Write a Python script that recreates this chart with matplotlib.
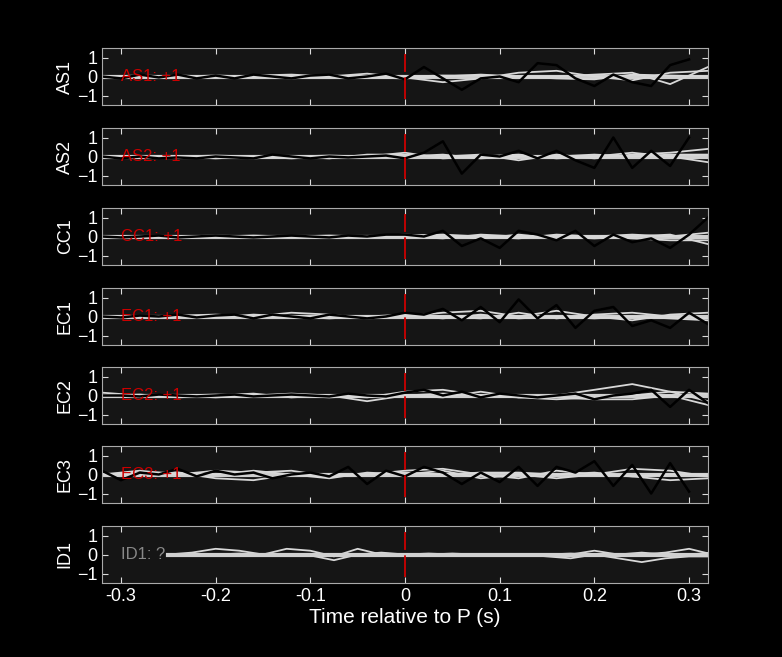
import numpy as np
import matplotlib.pyplot as plt

plt.rcParams['font.family'] = ['Liberation Sans', 'DejaVu Sans']

stations = ["AS1", "AS2", "CC1", "EC1", "EC2", "EC3", "ID1"]
labels = ["AS1: +1", "AS2: +1", "CC1: +1", "EC1: +1", "EC2: +1", "EC3: +1", "ID1: ?"]
label_colors = ["#cc0000"] * 6 + ["#888888"]

# black trace, sampled every 0.02 s from -0.32
t_black = np.round(np.arange(-0.32, 0.325, 0.02), 3)
black = {
    "AS1": [0.0, -0.1, 0.1, -0.05, 0.1, -0.1, 0.05, -0.1, 0.1, 0.0, -0.1, 0.05, 0.1, -0.1, 0.0, 0.15, -0.15, 0.5,
            -0.1, -0.7, -0.1, 0.0, -0.3, 0.7, 0.6, -0.1, -0.5, 0.1, -0.3, -0.5, 0.6, 0.9, -0.1],
    "AS2": [0.0, -0.1, 0.0, -0.1, -0.05, -0.1, 0.0, -0.05, -0.1, 0.1, 0.0, -0.1, 0.0, -0.05, 0.0, 0.05, -0.1, 0.2,
            0.8, -0.9, 0.1, 0.0, 0.3, -0.1, 0.3, -0.2, -0.6, 1.0, -0.6, 0.3, -0.5, 1.0, -0.7],
    "CC1": [0.0, -0.05, 0.0, 0.05, -0.05, 0.0, 0.05, 0.0, -0.05, 0.0, 0.05, 0.0, -0.05, 0.05, 0.0, 0.1, 0.1, 0.0,
            0.3, -0.5, -0.1, -0.6, 0.3, 0.1, -0.2, 0.3, -0.5, 0.1, -0.3, -0.1, -0.6, 0.1, 1.0],
    "EC1": [0.0, -0.05, 0.05, 0.0, 0.1, -0.05, 0.05, 0.1, -0.1, 0.1, 0.0, -0.1, 0.1, 0.0, -0.1, 0.0, 0.2, 0.1,
            0.4, -0.2, 0.5, -0.3, 0.9, -0.1, 0.6, -0.6, 0.3, 0.5, -0.5, -0.2, -0.6, 0.2, -0.4],
    "EC2": [0.0, 0.0, -0.05, 0.05, 0.0, -0.05, 0.0, 0.05, -0.05, 0.0, 0.05, 0.0, -0.05, 0.1, 0.0, -0.05, 0.15, 0.3,
            0.0, 0.2, -0.1, 0.1, 0.0, -0.1, 0.0, 0.1, -0.2, 0.0, 0.1, 0.3, -0.6, 0.3, -0.4],
    "EC3": [0.2, -0.3, 0.1, 0.0, 0.3, -0.1, 0.2, 0.0, 0.1, -0.2, 0.0, 0.1, -0.1, 0.4, -0.5, 0.2, -0.1, 0.4,
            0.1, -0.5, 0.1, -0.4, 0.4, -0.6, 0.4, 0.1, 0.7, -0.6, 0.5, -1.0, 0.6, -0.9, 0.4],
}
black_end = {"AS1": 0.31, "AS2": 0.31, "CC1": 0.32, "EC1": 0.32, "EC2": 0.32, "EC3": 0.31}

# gray traces, sampled every 0.04 s from -0.32
t_gray = np.round(np.arange(-0.32, 0.325, 0.04), 3)
gray = {
    "AS1": [[0.0, 0.05, 0.0, -0.05, 0.05, 0.1, 0.0, 0.15, -0.05, -0.3, -0.1, 0.2, 0.3, 0.0, -0.2, 0.2, 0.3],
            [0.0, 0.0, 0.05, 0.0, -0.05, 0.0, 0.05, 0.0, 0.0, 0.05, 0.05, 0.0, -0.1, -0.15, 0.1, 0.05, 0.0],
            [0.0, -0.05, 0.0, 0.05, 0.0, -0.1, 0.0, -0.05, -0.1, 0.0, 0.1, 0.0, 0.0, 0.1, 0.2, -0.4, 0.5]],
    "AS2": [[0.0, 0.0, -0.05, 0.0, -0.1, 0.0, -0.1, 0.1, 0.1, 0.0, 0.1, -0.2, 0.1, -0.1, 0.1, 0.2, 0.4],
            [0.0, -0.05, 0.0, -0.1, 0.0, -0.1, 0.0, 0.0, 0.2, -0.1, 0.0, 0.1, -0.1, 0.0, 0.2, 0.0, -0.3],
            [0.0, 0.0, 0.0, 0.05, 0.0, 0.0, 0.05, 0.0, 0.0, 0.1, -0.1, 0.0, 0.0, 0.1, 0.0, 0.1, 0.1]],
    "CC1": [[0.0, 0.0, 0.0, 0.05, 0.0, 0.0, 0.05, 0.0, 0.1, 0.0, -0.1, 0.1, -0.1, 0.0, 0.1, 0.0, 0.2],
            [0.0, 0.0, -0.05, 0.0, 0.0, -0.05, 0.0, 0.0, 0.0, -0.1, 0.1, 0.0, 0.0, -0.1, 0.0, 0.1, -0.4],
            [0.0, 0.0, 0.0, 0.0, 0.05, 0.0, -0.05, 0.0, 0.05, 0.1, 0.0, -0.1, 0.1, 0.0, -0.1, -0.2, -0.2]],
    "EC1": [[0.0, 0.0, 0.05, 0.1, 0.0, 0.2, 0.1, -0.1, 0.0, 0.2, 0.3, 0.0, 0.3, 0.0, -0.2, 0.1, 0.2],
            [0.0, 0.0, 0.0, -0.05, 0.1, 0.0, -0.1, 0.0, 0.1, 0.0, -0.1, 0.2, -0.1, 0.1, 0.2, 0.0, -0.1],
            [0.0, 0.0, 0.0, 0.0, 0.0, -0.05, 0.0, 0.0, 0.05, -0.1, 0.1, -0.1, 0.0, -0.1, 0.0, -0.1, -0.2]],
    "EC2": [[0.15, 0.0, 0.0, -0.1, 0.0, 0.1, 0.0, -0.1, 0.2, 0.3, 0.0, -0.1, 0.0, 0.3, 0.6, 0.2, -0.3],
            [0.0, 0.05, -0.1, 0.0, 0.1, -0.1, 0.0, -0.3, 0.0, -0.1, 0.2, -0.1, -0.2, -0.1, 0.0, 0.2, 0.1],
            [0.0, 0.0, 0.0, 0.05, 0.0, 0.0, -0.1, 0.0, 0.0, 0.1, 0.0, 0.0, -0.1, -0.2, -0.2, 0.0, -0.5]],
    "EC3": [[0.0, 0.2, 0.0, 0.2, 0.1, 0.2, -0.1, 0.0, 0.2, 0.3, 0.0, -0.2, 0.2, 0.0, 0.3, 0.2, -0.1],
            [0.0, 0.1, 0.1, -0.2, -0.3, 0.0, -0.2, 0.1, 0.0, 0.2, -0.2, 0.0, -0.2, 0.0, -0.1, -0.3, -0.2],
            [0.0, 0.0, 0.1, 0.0, 0.2, 0.0, 0.0, 0.0, 0.1, 0.0, 0.1, 0.1, 0.0, 0.1, -0.1, 0.0, 0.0]],
}
t_id1 = np.round(np.arange(24) * 0.025 - 0.25, 3)
gray_id1 = [[0.0, 0.1, 0.3, 0.2, 0.0, 0.3, 0.2, -0.1, 0.3, 0.0, 0.0, 0.0, 0.05, 0.0, -0.05, 0.0, -0.1, -0.2, 0.0, -0.2, -0.4, -0.2, -0.1, -0.1],
            [0.0, 0.0, 0.0, 0.05, 0.0, 0.0, -0.05, -0.3, 0.0, 0.1, 0.0, 0.05, 0.0, 0.0, 0.0, 0.0, 0.0, 0.0, 0.2, 0.0, 0.0, 0.1, 0.3, 0.0],
            [0.0, 0.0, 0.0, 0.0, 0.0, 0.0, 0.0, 0.0, 0.0, 0.05, 0.0, 0.0, 0.0, 0.0, 0.0, 0.0, 0.0, 0.05, 0.0, 0.0, 0.1, 0.0, 0.0, 0.1]]

fig = plt.figure(figsize=(7.82, 6.57), dpi=100, facecolor="black")
bottoms = [552, 472, 392, 312, 233, 154, 74]
for i, st in enumerate(stations):
    ax = fig.add_axes([102 / 782, bottoms[i] / 657, 606 / 782, 57 / 657], facecolor="#151515")
    if st == "ID1":
        for tr in gray_id1:
            ax.plot(t_id1, tr, color="#d8d8d8", lw=1.3)
        ax.plot(t_id1, np.zeros(len(t_id1)), color="#d0d0d0", lw=3)
    else:
        ax.plot(t_gray, np.zeros(len(t_gray)), color="#d0d0d0", lw=3)
        for tr in gray[st]:
            ax.plot(t_gray, tr, color="#d8d8d8", lw=1.3)
        m = t_black <= black_end[st] + 1e-9
        ax.plot(t_black[m], np.array(black[st])[m], color="black", lw=1.8)
    ax.plot([0, 0], [-1.2, 1.2], color="#cc0000", lw=1.3, dashes=(12, 3))
    ax.text(-0.3, 0, labels[i], color=label_colors[i], fontsize=12, va="center", ha="left")
    ax.set_xlim(-0.32, 0.32)
    ax.set_ylim(-1.5, 1.5)
    ax.set_yticks([-1, 0, 1])
    ax.set_xticks([-0.3, -0.2, -0.1, 0, 0.1, 0.2, 0.3])
    ax.tick_params(direction="in", colors="#dddddd", labelcolor="white", labelsize=13,
                   top=True, right=True, length=4)
    for s in ax.spines.values():
        s.set_color("#aaaaaa")
    ax.set_ylabel(st, color="white", fontsize=13, labelpad=2)
    if st != "ID1":
        ax.set_xticklabels([])
    else:
        ax.set_xticklabels(["-0.3", "-0.2", "-0.1", "0", "0.1", "0.2", "0.3"])
        ax.set_xlabel("Time relative to P (s)", color="white", fontsize=15, labelpad=2)

fig.savefig("out.png", dpi=100, facecolor="black")
